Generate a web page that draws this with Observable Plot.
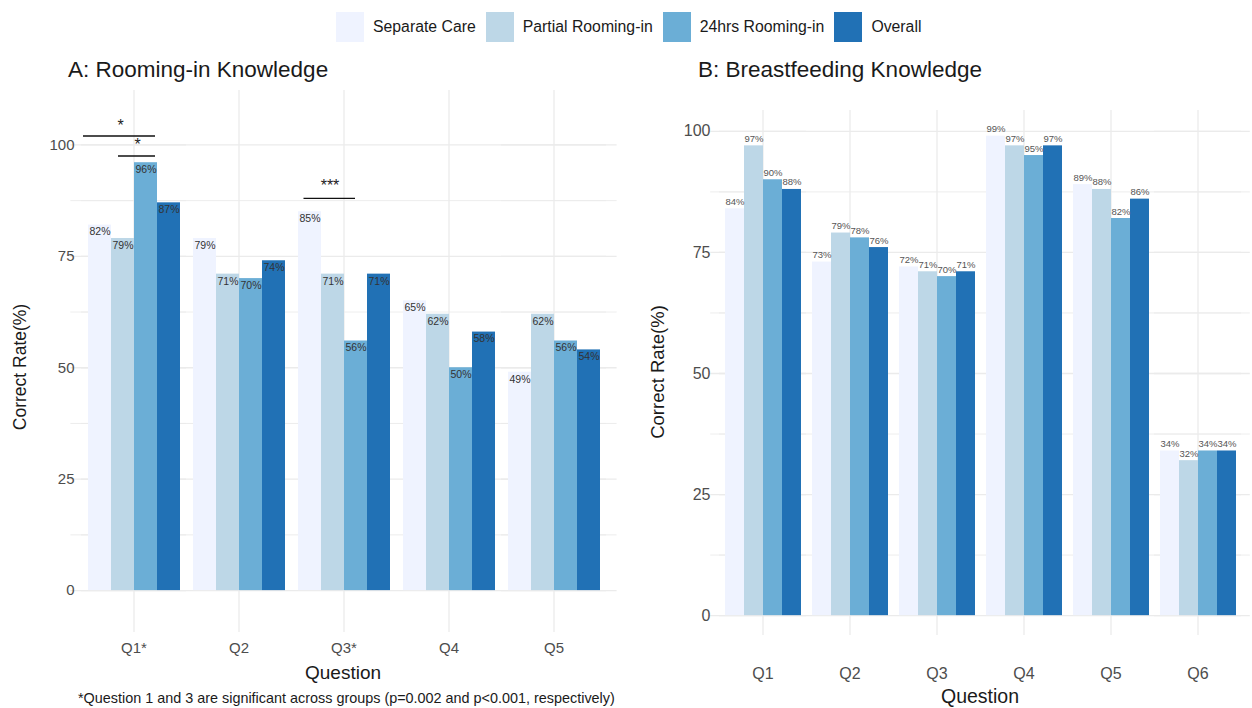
<!DOCTYPE html>
<html><head><meta charset="utf-8">
<script src="https://cdn.jsdelivr.net/npm/d3@7"></script>
<script src="https://cdn.jsdelivr.net/npm/@observablehq/plot@0.6"></script>
<style>
body{margin:0;width:1252px;height:708px;position:relative;background:#fff;font-family:"Liberation Sans",Arial,sans-serif;overflow:hidden;color:#1a1a1a}
.abs{position:absolute}
#legend{left:336px;top:12px;display:flex;align-items:center;height:30px}
.sw{width:28px;height:30px;margin-right:9px}
.lt{font-size:15.8px;margin-right:10px;white-space:nowrap}
.title{font-size:22.5px;white-space:nowrap;line-height:1}
.ytitle{font-size:17.5px;white-space:nowrap;transform:translate(-50%,-50%) rotate(-90deg);line-height:1}
.xtitle{font-size:19px;white-space:nowrap;transform:translate(-50%,-50%);line-height:1}
</style></head><body>
<div id="legend" class="abs"></div>
<div class="abs title" style="left:68px;top:59px">A: Rooming-in Knowledge</div>
<div class="abs title" style="left:698px;top:59px">B: Breastfeeding Knowledge</div>
<div class="abs ytitle" style="left:21px;top:367px">Correct Rate(%)</div>
<div class="abs ytitle" style="left:658px;top:372px;font-size:18.5px">Correct Rate(%)</div>
<div class="abs xtitle" style="left:343px;top:672px">Question</div>
<div class="abs xtitle" style="left:980px;top:697px;font-size:19.5px">Question</div>
<div class="abs" style="left:78px;top:690px;font-size:14.4px;white-space:nowrap">*Question 1 and 3 are significant across groups (p=0.002 and p&lt;0.001, respectively)</div>
<div id="chartA" class="abs" style="left:0;top:85px"></div>
<div id="chartB" class="abs" style="left:630px;top:85px"></div>
<script>
const groups = ["Separate Care", "Partial Rooming-in", "24hrs Rooming-in", "Overall"];
const colors = ["#eff3ff", "#bdd7e7", "#6baed6", "#2171b5"];

const questionsA = ["Q1*", "Q2", "Q3*", "Q4", "Q5"];
const separateA = [82, 79, 85, 65, 49];
const partialA = [79, 71, 71, 62, 62];
const fullA = [96, 70, 56, 50, 56];
const overallA = [87, 74, 71, 58, 54];

const questionsB = ["Q1", "Q2", "Q3", "Q4", "Q5", "Q6"];
const separateB = [84, 73, 72, 99, 89, 34];
const partialB = [97, 79, 71, 97, 88, 32];
const fullB = [90, 78, 70, 95, 82, 34];
const overallB = [88, 76, 71, 97, 86, 34];

const yTicks = [0, 25, 50, 75, 100];
const yMinor = [12.5, 37.5, 62.5, 87.5];

const sigQuestion = ["Q1*", "Q1*", "Q3*"];
const sigFrom = ["Separate Care", "Partial Rooming-in", "Separate Care"];
const sigTo = ["24hrs Rooming-in", "24hrs Rooming-in", "24hrs Rooming-in"];
const sigStarAt = ["Partial Rooming-in", "24hrs Rooming-in", "Partial Rooming-in"];
const sigLineY = [102, 97.5, 88];
const sigStarY = [104.3, 100.1, 90.7];
const sigLabel = ["*", "*", "***"];

// legend
const leg = document.getElementById("legend");
groups.forEach((g, i) => {
  const s = document.createElement("div"); s.className = "sw"; s.style.background = colors[i]; leg.appendChild(s);
  const t = document.createElement("div"); t.className = "lt"; t.textContent = g; leg.appendChild(t);
});

function rows(qs, arrs) {
  const out = [];
  qs.forEach((q, i) => groups.forEach((g, j) => out.push({q, g, v: arrs[j][i]})));
  return out;
}
const dataA = rows(questionsA, [separateA, partialA, fullA, overallA]);
const dataB = rows(questionsB, [separateB, partialB, fullB, overallB]);
const gridAll = [...yMinor, ...yTicks];
const GRID = "#ebebeb";
const font = "'Liberation Sans', Arial, sans-serif";

function gridMarks(qs, ext) {
  return [
    Plot.ruleY(gridAll, {y: d => d, stroke: GRID, strokeWidth: d => yTicks.includes(d) ? 1.3 : 0.9}),
    Plot.ruleY(gridAll, {y: d => d, fx: () => qs[0], stroke: GRID, strokeWidth: d => yTicks.includes(d) ? 1.3 : 0.9, insetLeft: -ext}),
    Plot.ruleY(gridAll, {y: d => d, fx: () => qs[qs.length - 1], stroke: GRID, strokeWidth: d => yTicks.includes(d) ? 1.3 : 0.9, insetRight: -ext}),
    Plot.gridFx({stroke: GRID, strokeOpacity: 1, strokeWidth: 1.3})
  ];
}

const sigIdx = [0, 1, 2];
const sigInsets = [[-5, 2], [7, 2], [5.5, 12]];
const starDx = [-2.5, -8.5, -3];
const sigMarks = [];
sigIdx.forEach(i => {
  const d = [{q: sigQuestion[i], a: sigFrom[i], b: sigTo[i], y: sigLineY[i], s: sigStarAt[i], sy: sigStarY[i], t: sigLabel[i]}];
  sigMarks.push(Plot.ruleY(d, {fx: "q", x1: "a", x2: "b", y: "y", stroke: "#111", strokeWidth: 1.4, insetLeft: sigInsets[i][0], insetRight: sigInsets[i][1]}));
  sigMarks.push(Plot.text(d, {fx: "q", x: "s", y: "sy", text: "t", dx: starDx[i], fontSize: 16, fill: "#222"}));
});

const chartA = Plot.plot({
  width: 625, height: 575,
  marginTop: 5, marginLeft: 68, marginRight: 7, marginBottom: 28,
  style: {fontFamily: font, background: "transparent"},
  fx: {domain: questionsA, paddingInner: 0, paddingOuter: 0.1},
  x: {domain: groups, paddingInner: 0, paddingOuter: 0.2222, axis: null},
  y: {domain: [-9.4, 112.2]},
  color: {domain: groups, range: colors},
  marks: [
    ...gridMarks(questionsA, 10.6),
    Plot.barY(dataA, {fx: "q", x: "g", y: "v", fill: "g"}),
    Plot.text(dataA, {fx: "q", x: "g", y: "v", text: d => d.v + "%", dy: 7, fontSize: 10.5, fill: "#333"}),
    ...sigMarks,
    Plot.axisY(yTicks, {tickSize: 0, tickPadding: 7, fontSize: 15, fill: "#4d4d4d", label: null}),
    Plot.axisFx({anchor: "bottom", tickSize: 0, tickPadding: 10, fontSize: 15, fill: "#4d4d4d", label: null})
  ]
});
document.getElementById("chartA").appendChild(chartA);

const chartB = Plot.plot({
  width: 622, height: 600,
  marginTop: 25, marginLeft: 77, marginRight: 0, marginBottom: 50,
  style: {fontFamily: font, background: "transparent"},
  fx: {domain: questionsB, paddingInner: 0, paddingOuter: 0.1},
  x: {domain: groups, paddingInner: 0, paddingOuter: 0.2222, axis: null},
  y: {domain: [-4.1, 104.3]},
  color: {domain: groups, range: colors},
  marks: [
    ...gridMarks(questionsB, 8.8),
    Plot.barY(dataB, {fx: "q", x: "g", y: "v", fill: "g"}),
    Plot.text(dataB, {fx: "q", x: "g", y: "v", text: d => d.v + "%", dy: -7, fontSize: 9.5, fill: "#555"}),
    Plot.axisY(yTicks, {tickSize: 0, tickPadding: 9, fontSize: 16, fill: "#4d4d4d", label: null}),
    Plot.axisFx({anchor: "bottom", tickSize: 0, tickPadding: 32, fontSize: 16, fill: "#4d4d4d", label: null})
  ]
});
document.getElementById("chartB").appendChild(chartB);
</script>
</body></html>
